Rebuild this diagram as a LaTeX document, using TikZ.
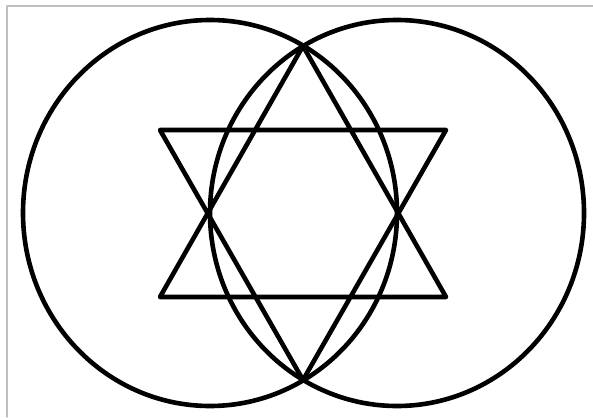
\documentclass[tikz,border=0pt]{standalone}
\begin{document}
\begin{tikzpicture}[x=1pt, y=-1pt, line join=round, line cap=round]
            \def\rx{187} \def\ry{193}
            \useasboundingbox (0,0) rectangle (593,417);
            \draw[gray!50, line width=1.2pt] (7,417)--(7,6)--(593,6);
            \path (210,213) coordinate(O1) (397,213) coordinate(O2);
            \path (303,46) coordinate(T) (303,380) coordinate(S);
            \foreach \i/\x/\y in {A/160/297,B/446/297,C/160/130,D/446/130} \path (\x,\y) coordinate(\i);
            \begin{scope}[line width=4.6pt]
            \draw (O1) ellipse ({\rx} and {\ry}) (O2) ellipse ({\rx} and {\ry});
            \draw (T)--(A)--(B)--cycle
            (C)--(D)--(S)--cycle;
            \end{scope}
    \end{tikzpicture}
\end{document}
